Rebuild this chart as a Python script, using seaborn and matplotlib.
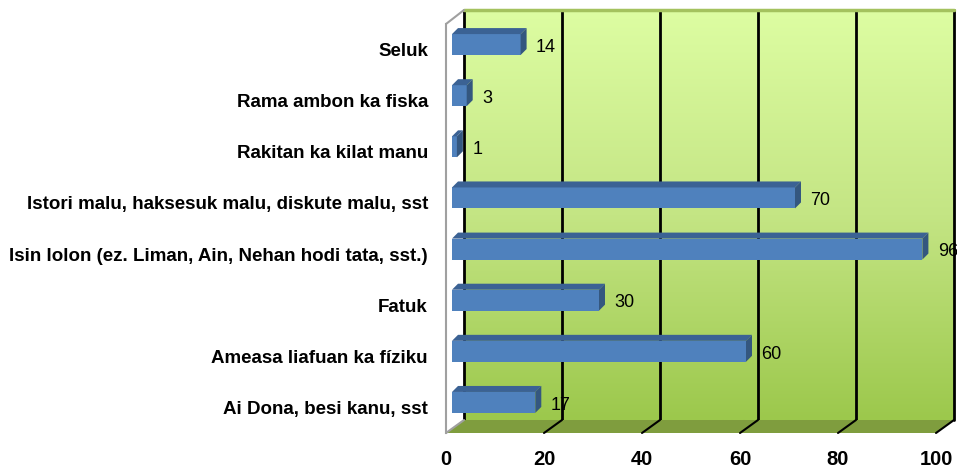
# -*- coding: utf-8 -*-
import numpy as np
import matplotlib
matplotlib.use("Agg")
import matplotlib.pyplot as plt
import seaborn as sns
from matplotlib.colors import LinearSegmentedColormap
from matplotlib.patches import Polygon
from matplotlib.lines import Line2D
from matplotlib.transforms import IdentityTransform

# Dados (de cima para baixo)
categorias = [
    "Seluk",
    "Rama ambon ka fiska",
    "Rakitan ka kilat manu",
    "Istori malu, haksesuk malu, diskute malu, sst",
    "Isin lolon (ez. Liman, Ain, Nehan hodi tata, sst.)",
    "Fatuk",
    "Ameasa liafuan ka fíziku",
    "Ai Dona, besi kanu, sst",
]
valores = [14, 3, 1, 70, 96, 30, 60, 17]
ticks_x = [0, 20, 40, 60, 80, 100]

W, H, DPI = 957, 475, 100


def eixo_px(fig, left, top, right, bottom):
    """Cria eixo a partir de coordenadas em pixels (origem no topo)"""
    return fig.add_axes([left / W, 1 - bottom / H, (right - left) / W, (bottom - top) / H])


sns.set_theme(style="white")
plt.rcParams["font.family"] = ["Liberation Sans", "DejaVu Sans"]
plt.rcParams["text.color"] = "black"
plt.rcParams["xtick.labelcolor"] = "black"
plt.rcParams["ytick.labelcolor"] = "black"

fig = plt.figure(figsize=(W / DPI, H / DPI), dpi=DPI)
ident = IdentityTransform()

# Parede de fundo com degradê
ax_w = eixo_px(fig, 464, 10, 954, 420)
ax_w.set_zorder(0)
cmap = LinearSegmentedColormap.from_list("parede", ["#9cc84c", "#c4e584", "#ddfda2"])
ax_w.imshow(np.linspace(0, 1, 256).reshape(-1, 1), cmap=cmap, aspect="auto",
            extent=(0, 100, 0, 1), origin="lower")
ax_w.set_xlim(0, 100)
ax_w.set_ylim(0, 1)
for v in ticks_x:
    ax_w.axvline(v, color="black", lw=2, clip_on=False)
ax_w.axhline(1, color="#a4c25e", lw=2.5, clip_on=False)
ax_w.axis("off")

# Eixo frontal (rótulos)
ax = eixo_px(fig, 446, 24, 936, 433)
ax.set_zorder(1)
ax.patch.set_visible(False)
ax.set_xlim(0, 100)
ax.set_ylim(7.5, -0.5)
ax.set_xticks(ticks_x)
ax.set_xticklabels([str(t) for t in ticks_x], fontsize=14.5, fontweight="bold")
ax.tick_params(axis="x", length=4.5, width=1.5, color="#a0a0a0", pad=8)
ax.set_yticks(range(len(categorias)))
ax.set_yticklabels(categorias, fontsize=13.5, fontweight="bold")
ax.tick_params(axis="y", which="major", length=0, pad=13)
ax.set_yticks(np.arange(-0.5, len(categorias), 1), minor=True)
ax.tick_params(axis="y", which="minor", length=4.5, width=1.5, color="#a0a0a0")
for s in ["top", "right", "bottom"]:
    ax.spines[s].set_visible(False)
ax.spines["left"].set_color("#a0a0a0")
ax.spines["left"].set_linewidth(1.5)

# Chão 3D
f0 = ax.transAxes.transform((0, 0))
f1 = ax.transAxes.transform((1, 0))
b0 = ax_w.transAxes.transform((0, 0))
b1 = ax_w.transAxes.transform((1, 0))
chao = Polygon([f0, f1, b1, b0], closed=True, transform=ident,
               facecolor="#7f9d3e", edgecolor="none", zorder=0.5)
fig.add_artist(chao)
for v in ticks_x[1:]:
    p_f = ax.transData.transform((v, 7.5))
    p_b = ax_w.transData.transform((v, 0))
    fig.add_artist(Line2D([p_f[0], p_b[0]], [p_f[1], p_b[1]], transform=ident,
                          color="black", lw=1.5, zorder=0.6))
t0 = ax.transAxes.transform((0, 1))
t1 = ax_w.transAxes.transform((0, 1))
fig.add_artist(Line2D([t0[0], t1[0]], [t0[1], t1[1]], transform=ident,
                      color="#a0a0a0", lw=1.5, zorder=0.6))
fig.add_artist(Line2D([f0[0], b0[0]], [f0[1], b0[1]], transform=ident,
                      color="#a0a0a0", lw=1.5, zorder=0.6))

# Barras
ax_b = eixo_px(fig, 452, 19, 942, 428)
ax_b.set_zorder(2)
ax_b.patch.set_visible(False)
sns.barplot(x=valores, y=categorias, orient="h", color="#4f81bd", saturation=1,
            width=0.41, linewidth=0, edgecolor="none", ax=ax_b)
ax_b.set_xlim(0, 100)
ax_b.set_ylim(7.5, -0.5)
ax_b.axis("off")

d = 6
for p in ax_b.patches:
    x0, y0 = ax_b.transData.transform((p.get_x(), p.get_y() + p.get_height()))
    x1, y1 = ax_b.transData.transform((p.get_x() + p.get_width(), p.get_y()))
    topo = Polygon([(x0, y1), (x1, y1), (x1 + d, y1 + d), (x0 + d, y1 + d)],
                   transform=ident, facecolor="#3b6294", edgecolor="none", zorder=3)
    lado = Polygon([(x1, y0), (x1 + d, y0 + d), (x1 + d, y1 + d), (x1, y1)],
                   transform=ident, facecolor="#34577f", edgecolor="none", zorder=3)
    fig.add_artist(topo)
    fig.add_artist(lado)

for i, v in enumerate(valores):
    ax_b.annotate(f"{v}", xy=(v, i), xytext=(11, -2), textcoords="offset points",
                  ha="left", va="center", fontsize=13, color="black")

fig.savefig("out.png", dpi=DPI)
plt.close(fig)
